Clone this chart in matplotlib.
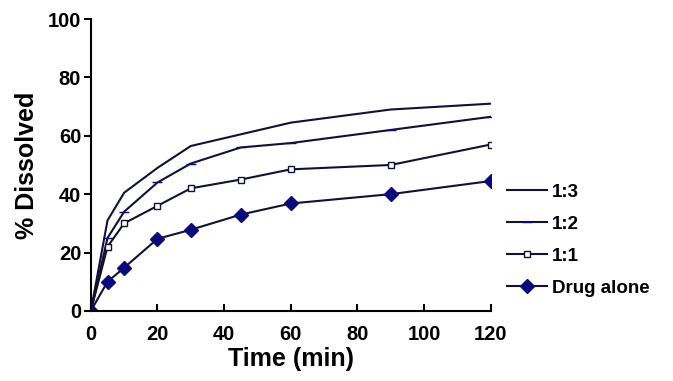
import matplotlib
matplotlib.use('Agg')
import matplotlib.pyplot as plt

plt.rcParams['font.family'] = ['Liberation Sans', 'DejaVu Sans']
plt.rcParams['font.weight'] = 'bold'

time_min = [0, 5, 10, 20, 30, 45, 60, 90, 120]
ratio_1_3 = [0, 31, 40.5, 49, 56.5, 60.5, 64.5, 69, 71]
ratio_1_2 = [0, 25, 34, 44, 50.5, 56, 57.5, 62, 66.5]
ratio_1_1 = [0, 22, 30, 36, 42, 45, 48.5, 50, 57]
drug_alone = [0, 10, 14.8, 24.7, 27.8, 33, 36.8, 40, 44.5]

series_labels = ['1:3', '1:2', '1:1', 'Drug alone']

navy = '#0a0a78'

fig = plt.figure(figsize=(6.73, 3.81), dpi=100)
ax = fig.add_axes([0.135, 0.184, 0.594, 0.766])

ax.plot(time_min, ratio_1_3, color='#111133', lw=1.5, label=series_labels[0])
ax.plot(time_min, ratio_1_2, color='#111133', lw=1.5, marker='_', ms=7,
        mec=navy, label=series_labels[1])
ax.plot(time_min, ratio_1_1, color='#111133', lw=1.5, marker='s', ms=5,
        mfc='white', mec='#111133', mew=1, label=series_labels[2])
ax.plot(time_min, drug_alone, color='#111133', lw=1.5, marker='D', ms=7,
        mfc=navy, mec=navy, label=series_labels[3])

ax.set_xlim(0, 120)
ax.set_ylim(0, 100)
ax.set_xticks(range(0, 121, 20))
ax.set_yticks(range(0, 101, 20))
for s in ['top', 'right']:
    ax.spines[s].set_visible(False)
for s in ['left', 'bottom']:
    ax.spines[s].set_linewidth(1.5)
ax.tick_params(axis='x', direction='in', length=5, width=1.5, labelsize=14.5, pad=10)
ax.tick_params(axis='y', direction='out', length=5, width=1.5, labelsize=14.5, pad=2)
ax.set_xlabel('Time (min)', fontsize=18, fontweight='bold', labelpad=2)
ax.set_ylabel('% Dissolved', fontsize=18, fontweight='bold', labelpad=6)

for lab in ax.get_xticklabels() + ax.get_yticklabels():
    lab.set_fontweight('bold')

fig.legend(loc='upper left', bbox_to_anchor=(0.742, 0.538), frameon=False,
           handlelength=2.13, labelspacing=0.8, handletextpad=0.27,
           borderaxespad=0, prop={'weight': 'bold', 'size': 13.5})

fig.savefig('out.png', dpi=100)
